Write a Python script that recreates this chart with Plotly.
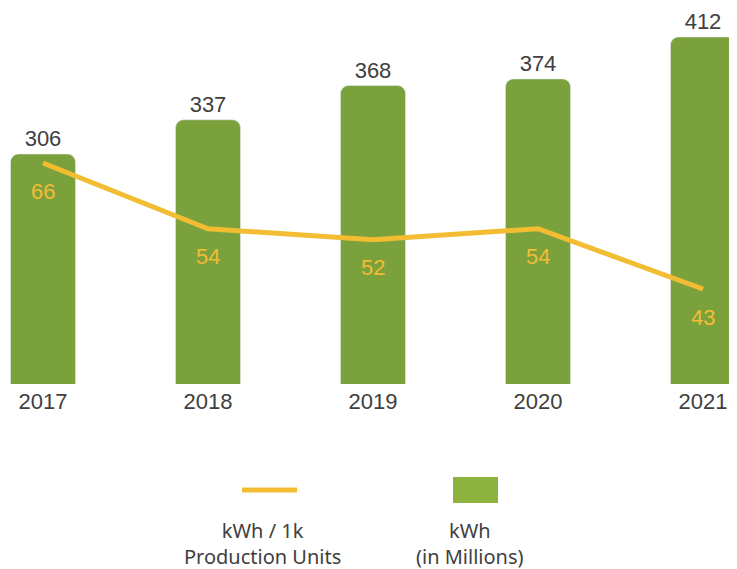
import plotly.graph_objects as go

years = ["2017", "2018", "2019", "2020", "2021"]
kwh_millions = [306, 337, 368, 374, 412]
kwh_per_1k = [66, 54, 52, 54, 43]

legend_line_label = "kWh / 1k<br>Production Units"
legend_bar_label = "kWh<br>(in Millions)"

OFF = 8  # page body margin
W, H = 737 - OFF, 569 - OFF
PLOT_BOTTOM = 384 - OFF  # pixel row of plot bottom inside the figure
STEP = 165.0  # pixels between categories
Y_MIN, Y_SCALE = 97.7, 1.104      # bar axis: value at bottom, px per unit
Y2_MIN, Y2_SCALE = 25.66, 5.478   # line axis

BAR_COLOR = "#7BA13D"
LINE_COLOR = "#F2BD33"
TEXT_COLOR = "#404040"

def px_x(p):
    return (p - OFF) / W

def px_y(p):
    return (PLOT_BOTTOM - (p - OFF)) / PLOT_BOTTOM

fig = go.Figure()
fig.add_trace(go.Bar(
    x=years, y=kwh_millions, marker=dict(color=BAR_COLOR, cornerradius=8),
    width=65 / STEP, text=[str(v) for v in kwh_millions], textposition="outside",
    textfont=dict(size=22, color=TEXT_COLOR, family="Liberation Sans"),
    cliponaxis=False, name="kWh", showlegend=False,
))
fig.add_trace(go.Scatter(
    x=years, y=kwh_per_1k, mode="lines", yaxis="y2",
    line=dict(color=LINE_COLOR, width=5), name="kWh / 1k", showlegend=False,
    cliponaxis=False,
))
for i, v in enumerate(kwh_per_1k):
    fig.add_annotation(x=i, xref="x", y=v, yref="y2", text=str(v), showarrow=False,
                       yshift=-28, xanchor="center", yanchor="middle",
                       font=dict(size=22, color=LINE_COLOR, family="Liberation Sans"))

# custom legend
fig.add_shape(type="line", xref="paper", yref="paper",
              x0=px_x(242), x1=px_x(297), y0=px_y(490), y1=px_y(490),
              line=dict(color=LINE_COLOR, width=5))
fig.add_shape(type="rect", xref="paper", yref="paper",
              x0=px_x(453), x1=px_x(498), y0=px_y(503), y1=px_y(477),
              fillcolor="#8DB33E", line=dict(width=0))
fig.add_annotation(xref="paper", yref="paper", x=px_x(262), y=px_y(543),
                   xanchor="center", yanchor="middle",
                   text=legend_line_label, showarrow=False,
                   font=dict(size=20, color=TEXT_COLOR, family="Noto Sans"))
fig.add_annotation(xref="paper", yref="paper", x=px_x(470), y=px_y(543),
                   xanchor="center", yanchor="middle",
                   text=legend_bar_label, showarrow=False,
                   font=dict(size=20, color=TEXT_COLOR, family="Noto Sans"))

# first category lands at page pixel 43
x0 = -(43 - OFF) / STEP
x1 = x0 + W / STEP

fig.update_layout(
    width=W, height=H, margin=dict(l=0, r=0, t=0, b=H - PLOT_BOTTOM),
    paper_bgcolor="white", plot_bgcolor="white",
    xaxis=dict(type="category", range=[x0, x1], showgrid=False, zeroline=False,
               showline=False, ticks="", ticklabelstandoff=2,
               tickfont=dict(size=22, color=TEXT_COLOR, family="Liberation Sans")),
    yaxis=dict(range=[Y_MIN, Y_MIN + PLOT_BOTTOM / Y_SCALE], visible=False, showgrid=False),
    yaxis2=dict(range=[Y2_MIN, Y2_MIN + PLOT_BOTTOM / Y2_SCALE], overlaying="y", side="right",
                visible=False, showgrid=False),
    showlegend=False,
)

fig.write_html("out.html")
